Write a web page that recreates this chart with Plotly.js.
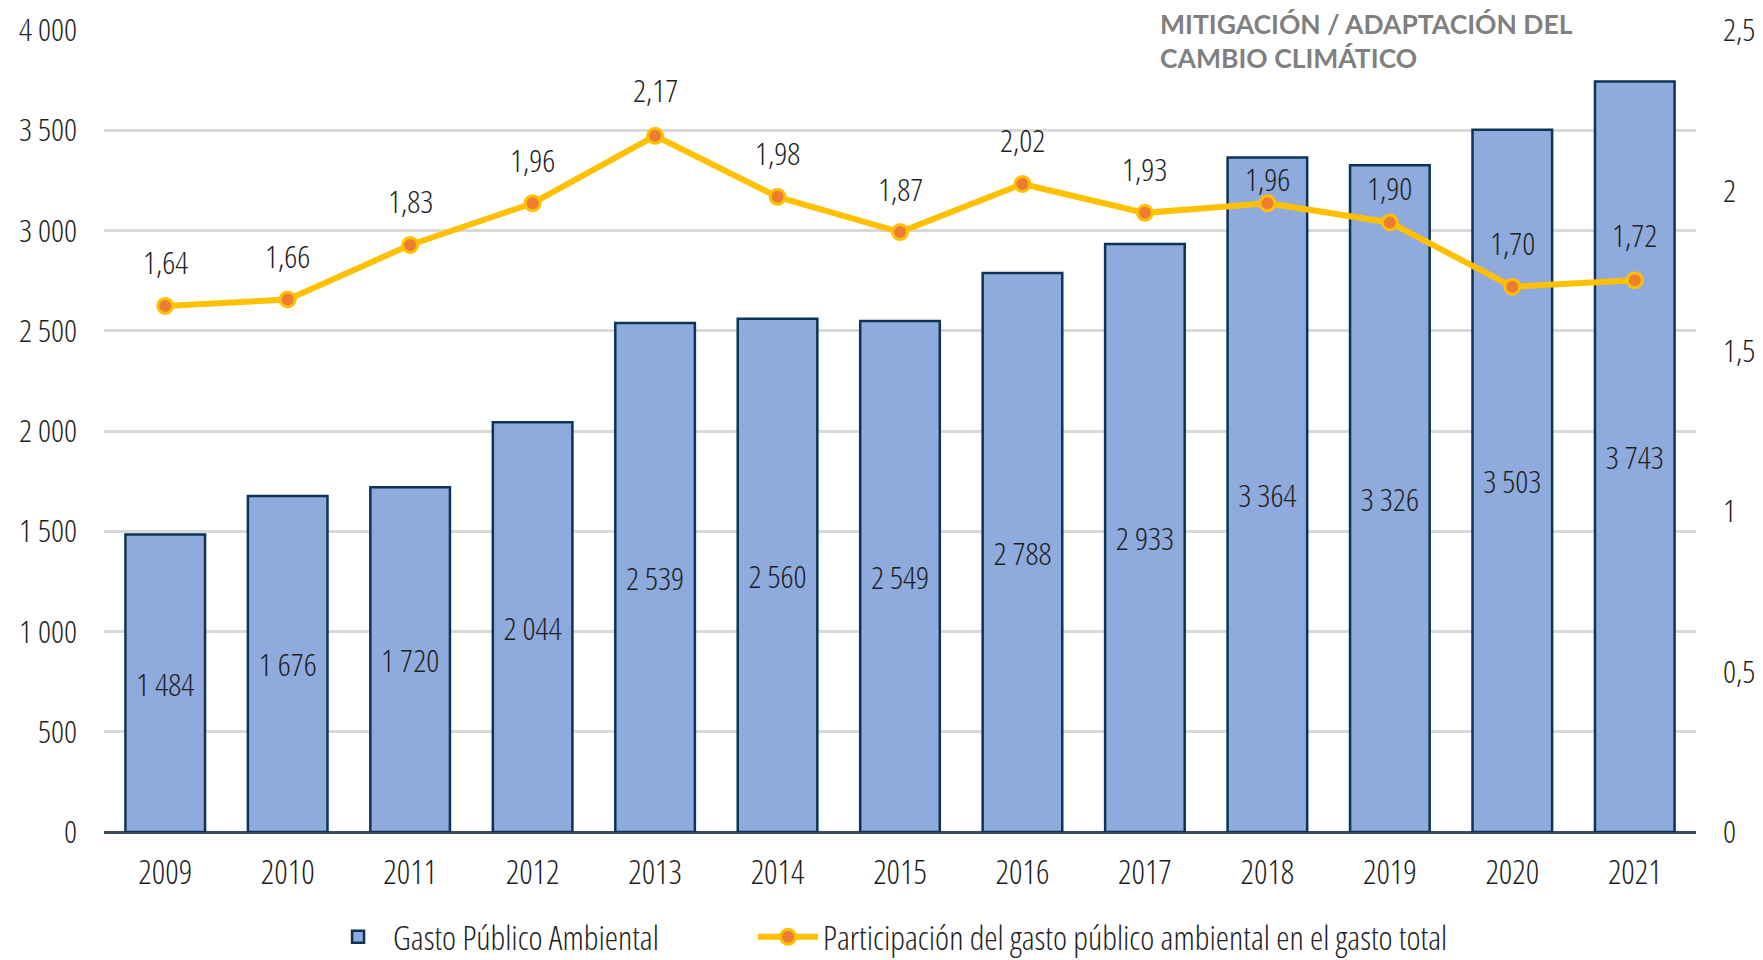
<!DOCTYPE html>
<html>
<head>
<meta charset="utf-8">
<script src="https://cdn.plot.ly/plotly-3.0.1.min.js"></script>
<style>
  html, body { margin: 0; padding: 0; background: #fff; }
  #graph { width: 1763px; height: 960px; }
  /* Open Sans has a width axis: squeeze it to look like Arial Narrow */
  svg text { font-stretch: 75% !important; }
</style>
</head>
<body>
<div id="graph"></div>
<script>
// data
var years = ['2009', '2010', '2011', '2012', '2013', '2014', '2015', '2016', '2017', '2018', '2019', '2020', '2021'];
var gasto = [1484, 1676, 1720, 2044, 2539, 2560, 2549, 2788, 2933, 3364, 3326, 3503, 3743];
var participacion = [1.64, 1.66, 1.83, 1.96, 2.17, 1.98, 1.87, 2.02, 1.93, 1.96, 1.90, 1.70, 1.72];

var FONT = '"Open Sans", sans-serif';
var TXT = '#1E1E1E';
var SIZE = 32;

// how far above each point its label sits (px); two are tucked closer in the original
var labelShift = [44, 44, 44, 44, 46, 44, 44, 44, 44, 25, 35, 44, 46];

function f(size) {
  return { family: FONT, size: size || SIZE, color: TXT, weight: 300 };
}

var bars = {
  x: years,
  y: gasto,
  type: 'bar',
  name: 'Gasto Público Ambiental',
  legendwidth: 355,
  marker: { color: '#8FAADC', line: { color: '#0D3454', width: 2.5 } },
  texttemplate: '%{y:,.0f}',
  textposition: 'inside',
  insidetextanchor: 'middle',
  textangle: 0,
  constraintext: 'none',
  textfont: f()
};

var line = {
  x: years,
  y: participacion,
  yaxis: 'y2',
  type: 'scatter',
  mode: 'lines+markers',
  name: 'Participación del gasto público ambiental en el gasto total',
  line: { color: '#FFC000', width: 6 },
  marker: { color: '#ED7D31', size: 15, line: { color: '#FFC000', width: 3 } }
};

var annots = participacion.map(function (v, i) {
  return {
    x: i, y: v, xref: 'x', yref: 'y2',
    text: v.toFixed(2).replace('.', ','),
    showarrow: false, yshift: labelShift[i],
    font: f()
  };
});

annots.push({
  xref: 'paper', yref: 'paper', x: 0.662, y: 1.03,
  xanchor: 'left', yanchor: 'top', align: 'left',
  text: 'MITIGACIÓN / ADAPTACIÓN DEL<br>CAMBIO CLIMÁTICO',
  showarrow: false,
  font: { family: 'Lato, sans-serif', size: 26.5, color: '#808080', weight: 700 }
});

var layout = {
  width: 1763,
  height: 960,
  margin: { l: 104, r: 67, t: 30, b: 128, autoexpand: false },
  paper_bgcolor: '#ffffff',
  plot_bgcolor: '#ffffff',
  separators: ', ',
  bargap: 0.35,
  font: f(),
  xaxis: {
    type: 'category',
    range: [-0.5, 12.5],
    showgrid: false,
    ticks: '',
    ticklabelstandoff: 18,
    tickfont: f(33)
  },
  yaxis: {
    range: [0, 4000],
    dtick: 500,
    separatethousands: true,
    gridcolor: '#D9D9D9',
    gridwidth: 3,
    zeroline: true,
    zerolinecolor: '#3B4A5A',
    zerolinewidth: 3,
    ticks: '',
    ticklabelstandoff: 26,
    tickfont: f()
  },
  yaxis2: {
    overlaying: 'y',
    side: 'right',
    range: [0, 2.5],
    dtick: 0.5,
    showgrid: false,
    zeroline: false,
    ticks: '',
    ticklabelstandoff: 26,
    tickfont: f()
  },
  legend: {
    orientation: 'h',
    x: 0.1376, xanchor: 'left',
    y: -0.131, yanchor: 'middle',
    itemwidth: 60,
    font: f(33.5)
  },
  annotations: annots
};

Plotly.newPlot('graph', [bars, line], layout, { displayModeBar: false });
</script>
</body>
</html>
